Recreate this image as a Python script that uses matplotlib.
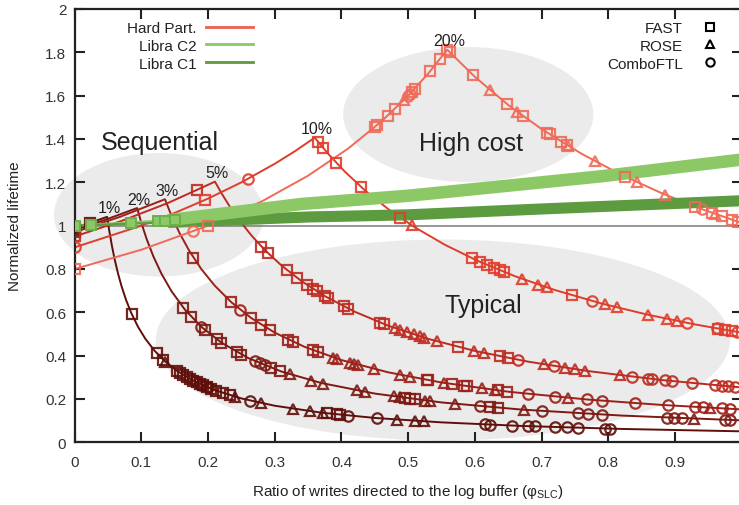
import matplotlib
matplotlib.use("Agg")
import matplotlib.pyplot as plt
from matplotlib.patches import Ellipse
from matplotlib.lines import Line2D
from matplotlib.ticker import FuncFormatter

plt.rcParams['font.family'] = ['Liberation Sans', 'DejaVu Sans']
plt.rcParams['mathtext.fontset'] = 'custom'
plt.rcParams['mathtext.rm'] = 'Liberation Sans'

# ---- Hard partitioning model curves (SLC share of capacity) ----
slc_share = ["1%", "2%", "3%", "5%", "10%", "20%"]

hp01_x = [0, 0.025, 0.0486, 0.052, 0.056, 0.06, 0.065, 0.07, 0.077, 0.085, 0.095, 0.106,
          0.12, 0.136, 0.155, 0.18, 0.21, 0.25, 0.3, 0.37, 0.45, 0.55, 0.67, 0.82, 1.0]
hp01_y = [0.99, 1.0154, 1.0406, 0.9731, 0.9036, 0.8433, 0.7785, 0.7229, 0.6571, 0.5953, 0.5326, 0.4774,
          0.4217, 0.3721, 0.3265, 0.2811, 0.2410, 0.2024, 0.1687, 0.1368, 0.1124, 0.0920, 0.0755, 0.0617, 0.0506]

hp02_x = [0, 0.047, 0.0936, 0.1, 0.108, 0.118, 0.13, 0.145, 0.165, 0.19, 0.22, 0.26, 0.31,
          0.37, 0.45, 0.55, 0.67, 0.82, 1.0]
hp02_y = [0.98, 1.0283, 1.0812, 1.012, 0.9370, 0.8576, 0.7785, 0.6979, 0.6133, 0.5326, 0.4600, 0.3892, 0.3265,
          0.2735, 0.2249, 0.1840, 0.1510, 0.1234, 0.1012]

hp03_x = [0, 0.068, 0.1353, 0.145, 0.157, 0.172, 0.19, 0.21, 0.235, 0.265, 0.3, 0.345, 0.4,
          0.47, 0.55, 0.65, 0.77, 0.88, 1.0]
hp03_y = [0.97, 1.0408, 1.1218, 1.0469, 0.9669, 0.8826, 0.7989, 0.7229, 0.6460, 0.5728, 0.5060, 0.4400, 0.3795,
          0.3230, 0.2760, 0.2335, 0.1971, 0.1725, 0.1518]

hp05_x = [0, 0.07, 0.14, 0.2103, 0.22, 0.232, 0.247, 0.265, 0.285, 0.31, 0.34, 0.375, 0.42,
          0.47, 0.53, 0.6, 0.68, 0.77, 0.88, 1.0]
hp05_y = [0.95, 1.0215, 1.1047, 1.2030, 1.1500, 1.0905, 1.0243, 0.9547, 0.8877, 0.8161, 0.7441, 0.6747, 0.6024,
          0.5383, 0.4774, 0.4217, 0.3721, 0.3286, 0.2875, 0.2530]

hp10_x = [0, 0.1, 0.15, 0.2, 0.25, 0.3, 0.33, 0.3599, 0.38, 0.405, 0.435, 0.47, 0.51, 0.555,
          0.605, 0.66, 0.72, 0.79, 0.86, 0.93, 1.0]
hp10_y = [0.9, 1.0, 1.0588, 1.125, 1.2, 1.2857, 1.3433, 1.4060, 1.3316, 1.2494, 1.1632, 1.0766, 0.9922, 0.9117,
          0.8364, 0.7667, 0.7028, 0.6405, 0.5884, 0.5441, 0.5060]

hp20_x = [0, 0.1, 0.2, 0.28, 0.35, 0.41, 0.46, 0.5, 0.53, 0.5585, 0.6, 0.65, 0.7, 0.76,
          0.82, 0.88, 0.94, 1.0]
hp20_y = [0.8, 0.8889, 1.0, 1.1111, 1.2308, 1.3559, 1.4815, 1.6, 1.7021, 1.8120, 1.6867, 1.5569, 1.4457, 1.3316,
          1.2341, 1.1500, 1.0766, 1.0120]

# ---- Measured points: FAST (squares), ROSE (triangles), ComboFTL (circles) ----
fast01 = [(0, 0.99), (0.023, 1.013), (0.0855, 0.5918), (0.123, 0.4114), (0.133, 0.3805), (0.153, 0.3307),
          (0.158, 0.3203), (0.163, 0.3104), (0.168, 0.3012), (0.173, 0.2925), (0.178, 0.2843), (0.183, 0.2765),
          (0.188, 0.2691), (0.193, 0.2622), (0.198, 0.2556), (0.205, 0.2468), (0.212, 0.2387), (0.223, 0.2269),
          (0.233, 0.2172), (0.378, 0.1339), (0.393, 0.1288), (0.398, 0.1271)]
rose01 = [(0.136, 0.3721), (0.24, 0.2108), (0.28, 0.1807), (0.328, 0.1543), (0.353, 0.1433), (0.373, 0.1357),
          (0.483, 0.1048), (0.51, 0.0992), (0.523, 0.0967)]
combo01 = [(0.18, 0.2811), (0.19, 0.2663), (0.2, 0.2530), (0.263, 0.1924), (0.41, 0.1234), (0.453, 0.1117),
           (0.615, 0.0823), (0.623, 0.0812), (0.655, 0.0773), (0.68, 0.0744), (0.69, 0.0733), (0.72, 0.0703),
           (0.738, 0.0686), (0.755, 0.0670), (0.795, 0.0636), (0.803, 0.0630)]

fast02 = [(0, 0.98), (0.163, 0.6209), (0.175, 0.5783), (0.195, 0.5190), (0.213, 0.4751), (0.22, 0.46),
          (0.243, 0.4165), (0.25, 0.4048), (0.295, 0.3431), (0.308, 0.3286), (0.495, 0.2044), (0.503, 0.2012),
          (0.51, 0.1984), (0.623, 0.1624), (0.635, 0.1594)]
rose02 = [(0.323, 0.3133), (0.355, 0.2851), (0.373, 0.2713), (0.423, 0.2392), (0.435, 0.2326), (0.478, 0.2117),
          (0.488, 0.2074), (0.525, 0.1928), (0.533, 0.1899), (0.57, 0.1775), (0.673, 0.1504), (0.928, 0.1091)]
combo02 = [(0.19, 0.5326), (0.27, 0.3748), (0.278, 0.3640), (0.285, 0.3551), (0.608, 0.1664), (0.7, 0.1446),
           (0.755, 0.1340), (0.77, 0.1314), (0.79, 0.1281), (0.888, 0.1140), (0.898, 0.1127), (0.91, 0.1112),
           (0.975, 0.1038), (0.983, 0.1029)]

fast03 = [(0, 0.97), (0.178, 0.8528), (0.235, 0.6460), (0.265, 0.5728), (0.28, 0.5421), (0.293, 0.5181),
          (0.32, 0.4744), (0.328, 0.4628), (0.358, 0.4240), (0.365, 0.4159), (0.528, 0.2875), (0.53, 0.2864),
          (0.565, 0.2687), (0.583, 0.2604), (0.588, 0.2582), (0.635, 0.2391), (0.648, 0.2343)]
rose03 = [(0.388, 0.3912), (0.393, 0.3863), (0.413, 0.3676), (0.418, 0.3632), (0.425, 0.3572), (0.448, 0.3388),
          (0.488, 0.3111), (0.503, 0.3018), (0.553, 0.2745), (0.61, 0.2489), (0.63, 0.2410), (0.74, 0.2051),
          (0.952, 0.1595)]
combo03 = [(0.248, 0.6121), (0.68, 0.2232), (0.72, 0.2108), (0.768, 0.1977), (0.79, 0.1922), (0.84, 0.1807),
           (0.89, 0.1706), (0.93, 0.1632), (0.942, 0.1611), (0.97, 0.1565), (0.983, 0.1544)]

fast05 = [(0, 0.95), (0.184, 1.1642), (0.28, 0.9036), (0.29, 0.8724), (0.318, 0.7956), (0.333, 0.7598),
          (0.348, 0.7270), (0.358, 0.7067), (0.363, 0.6970), (0.375, 0.6747), (0.38, 0.6658), (0.403, 0.6278),
          (0.41, 0.6171), (0.458, 0.5524), (0.463, 0.5464), (0.575, 0.4400), (0.638, 0.3966), (0.65, 0.3892)]
rose05 = [(0.48, 0.5271), (0.488, 0.5184), (0.498, 0.5080), (0.508, 0.4980), (0.518, 0.4884), (0.524, 0.4828),
          (0.543, 0.4659), (0.598, 0.4231), (0.613, 0.4127), (0.703, 0.3599), (0.735, 0.3442), (0.75, 0.3373),
          (0.765, 0.3307), (0.818, 0.3093)]
combo05 = [(0.665, 0.3805), (0.718, 0.3524), (0.835, 0.3030), (0.86, 0.2942), (0.865, 0.2925), (0.885, 0.2859),
           (0.895, 0.2827), (0.925, 0.2735), (0.96, 0.2635), (0.97, 0.2608), (0.98, 0.2582), (0.99, 0.2556)]

fast10 = [(0.196, 1.1194), (0.365, 1.3863), (0.372, 1.3602), (0.392, 1.2908), (0.429, 1.1795), (0.488, 1.0369),
          (0.595, 0.8504), (0.608, 0.8322), (0.618, 0.8188), (0.628, 0.8057), (0.638, 0.7931), (0.644, 0.7857),
          (0.745, 0.6792), (0.965, 0.5244), (0.975, 0.5190), (0.985, 0.5137)]
rose10 = [(0.505, 1.0020), (0.67, 0.7552), (0.695, 0.7281), (0.708, 0.7147), (0.795, 0.6365), (0.813, 0.6224),
          (0.86, 0.5884), (0.888, 0.5698), (0.903, 0.5604)]
combo10 = [(0, 0.9), (0.26, 1.2162), (0.775, 0.6529), (0.918, 0.5512), (0.963, 0.5254), (0.993, 0.5096)]

fast20 = [(0, 0.8), (0.2, 1.0), (0.45, 1.4545), (0.453, 1.4625), (0.469, 1.5066), (0.48, 1.5385), (0.505, 1.6162),
          (0.51, 1.6327), (0.533, 1.7131), (0.548, 1.7699), (0.558, 1.8100), (0.562, 1.8007), (0.597, 1.6951),
          (0.648, 1.5617), (0.672, 1.5060), (0.708, 1.4294), (0.712, 1.4213), (0.729, 1.3882), (0.738, 1.3713),
          (0.825, 1.2267), (0.93, 1.0882), (0.955, 1.0597), (0.97, 1.0433), (0.985, 1.0274), (0.995, 1.0171)]
rose20 = [(0.493, 1.5779), (0.623, 1.6244), (0.663, 1.5264), (0.74, 1.3676), (0.78, 1.2974), (0.843, 1.2005),
          (0.885, 1.1435), (0.96, 1.0542)]
combo20 = [(0.178, 0.9732), (0.5, 1.6), (0.503, 1.6097), (0.94, 1.0766)]

# ---- Libra configurations ----
libra_c2_x = [0, 0.14, 0.34, 0.5, 0.7, 0.79, 1.0]
libra_c2_y = [1.0, 1.025, 1.10, 1.138, 1.20, 1.228, 1.305]
libra_c1_x = [0, 0.14, 0.35, 0.5, 0.7, 1.0]
libra_c1_y = [1.0, 1.015, 1.04, 1.05, 1.077, 1.115]
libra_c2_points = [(0.0, 1.0), (0.024, 1.004), (0.085, 1.013), (0.125, 1.02), (0.135, 1.022), (0.15, 1.025)]

# ---- Styling ----
hp_colors = ['#5f0f0a', '#7d1912', '#9c2018', '#be2b20', '#df3d2b', '#f06a58']
c2_color = '#8dc866'
c1_color = '#5c9b40'
ink = '#222222'

fig = plt.figure(figsize=(7.39, 5.06), dpi=100)
ax = fig.add_axes([74.7 / 739, 62.7 / 506, 667 / 739, 433.3 / 506])
ax.set_xlim(0, 1)
ax.set_ylim(0, 2)

# shaded regions
region_kw = dict(facecolor='#ebebeb', edgecolor='none', zorder=0.5, clip_on=False)
ax.add_patch(Ellipse((0.1265, 1.05), 0.315, 0.57, **region_kw))
ax.add_patch(Ellipse((0.590, 1.513), 0.375, 0.623, **region_kw))
ax.add_patch(Ellipse((0.552, 0.472), 0.861, 0.928, **region_kw))

ax.text(0.128, 1.386, 'Sequential', fontsize=18, color=ink, ha='center', va='center', zorder=6)
ax.text(0.594, 1.381, 'High cost', fontsize=18, color=ink, ha='center', va='center', zorder=6)
ax.text(0.612, 0.634, 'Typical', fontsize=18, color=ink, ha='center', va='center', zorder=6)

# reference line at 1
ax.axhline(1.0, color='#7a7a7a', lw=1.1, zorder=1)

curves_x = [hp01_x, hp02_x, hp03_x, hp05_x, hp10_x, hp20_x]
curves_y = [hp01_y, hp02_y, hp03_y, hp05_y, hp10_y, hp20_y]
fast_sets = [fast01, fast02, fast03, fast05, fast10, fast20]
rose_sets = [rose01, rose02, rose03, rose05, rose10, rose20]
combo_sets = [combo01, combo02, combo03, combo05, combo10, combo20]

for label, xs, ys, col in zip(slc_share, curves_x, curves_y, hp_colors):
    ax.plot(xs, ys, color=col, lw=1.4, zorder=2)
    i_peak = ys.index(max(ys))
    ax.annotate(label, (xs[i_peak], ys[i_peak]), xytext=(1.5, 6.5), textcoords='offset points',
                ha='center', va='center', fontsize=11.5, color=ink, zorder=6)

# Libra bands
ax.plot(libra_c2_x, libra_c2_y, color=c2_color, lw=1.6, zorder=2.4)
ax.plot(libra_c1_x, libra_c1_y, color=c1_color, lw=1.6, zorder=2.4)
ax.plot(libra_c2_x[1:], libra_c2_y[1:], color=c2_color, lw=9, solid_capstyle='butt', zorder=2.6)
ax.plot(libra_c1_x[1:], libra_c1_y[1:], color=c1_color, lw=8, solid_capstyle='butt', zorder=2.5)
ax.plot([p[0] for p in libra_c2_points], [p[1] for p in libra_c2_points], ls='none', marker='s',
        ms=7.5, mfc=c2_color, mec='#6fae4c', mew=1.4, zorder=3.2)

mk = dict(ls='none', mfc='none', ms=7.5, mew=1.6, alpha=0.9, zorder=3)
for col, fs, rs, cs in zip(hp_colors, fast_sets, rose_sets, combo_sets):
    ax.plot([p[0] for p in fs], [p[1] for p in fs], marker='s', mec=col, **mk)
    ax.plot([p[0] for p in rs], [p[1] for p in rs], marker='^', mec=col, **mk)
    ax.plot([p[0] for p in cs], [p[1] for p in cs], marker='o', mec=col, **mk)

# axes styling
ax.set_xticks([i / 10 for i in range(11)])
ax.set_yticks([i / 5 for i in range(11)])
ax.xaxis.set_major_formatter(FuncFormatter(lambda v, p: '' if v > 0.95 else f'{v:g}'))
ax.yaxis.set_major_formatter(FuncFormatter(lambda v, p: f'{v:g}'))
ax.tick_params(direction='in', length=7, width=1.5, top=True, right=True,
               labelsize=11, labelcolor='#333333', color=ink)
ax.tick_params(axis='x', pad=9)
ax.tick_params(axis='y', pad=6)
for s in ax.spines.values():
    s.set_linewidth(1.6)
    s.set_color(ink)

ax.set_xlabel('Ratio of writes directed to the log buffer (φ$_{\\mathregular{SLC}}$)', fontsize=11, color=ink)
ax.set_ylabel('Normalized lifetime', fontsize=11, color=ink)
ax.xaxis.set_label_coords(0.5, -0.0916)
ax.yaxis.set_label_coords(-0.079, 0.5)

# legends
line_handles = [Line2D([], [], color='#ee5f4c', lw=2),
                Line2D([], [], color=c2_color, lw=2),
                Line2D([], [], color=c1_color, lw=2)]
leg1 = ax.legend(line_handles, ['Hard Part.', 'Libra C2', 'Libra C1'], loc='upper right',
                 bbox_to_anchor=(253 / 739, 1 - 22 / 506), bbox_transform=fig.transFigure,
                 frameon=False, markerfirst=False, fontsize=11, handlelength=3.1,
                 handletextpad=0.6, labelspacing=0.25, borderpad=0, borderaxespad=0)
for t in leg1.get_texts():
    t.set_color(ink)
ax.add_artist(leg1)

marker_handles = [Line2D([], [], ls='none', marker='s', mfc='none', mec='black', ms=6, mew=1.5),
                  Line2D([], [], ls='none', marker='^', mfc='none', mec='black', ms=6, mew=1.5),
                  Line2D([], [], ls='none', marker='o', mfc='none', mec='black', ms=6, mew=1.5)]
leg2 = ax.legend(marker_handles, ['FAST', 'ROSE', 'ComboFTL'], loc='upper right',
                 bbox_to_anchor=(717.6 / 739, 1 - 22 / 506), bbox_transform=fig.transFigure,
                 frameon=False, markerfirst=False, fontsize=11, handlelength=1.0,
                 handletextpad=1.27, labelspacing=0.25, borderpad=0, borderaxespad=0)
for t in leg2.get_texts():
    t.set_color(ink)

fig.savefig('out.png', dpi=100)
